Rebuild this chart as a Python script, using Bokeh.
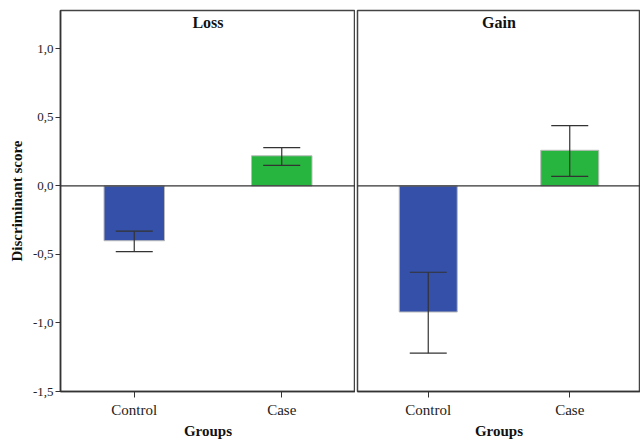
from bokeh.plotting import figure
from bokeh.layouts import row
from bokeh.models import (ColumnDataSource, Whisker, TeeHead, Span, Label,
                          FixedTicker, CustomJSTickFormatter, Range1d)
from bokeh.embed import file_html
from bokeh.resources import INLINE

groups = ["Control", "Case"]
panels = ["Loss", "Gain"]
loss_mean = [-0.40, 0.22]
loss_upper = [-0.33, 0.28]
loss_lower = [-0.48, 0.15]
gain_mean = [-0.92, 0.26]
gain_upper = [-0.63, 0.44]
gain_lower = [-1.22, 0.07]
colors = ["#3550A8", "#27B53F"]
y_ticks = [-1.5, -1.0, -0.5, 0.0, 0.5, 1.0]
y_min, y_max = -1.5, 1.28

FONT = "Liberation Serif"


def make_panel(name, mean, upper, lower, width, left_border, show_y):
    p = figure(x_range=groups, width=width, height=441,
               output_backend="svg", toolbar_location=None,
               y_axis_location="left" if show_y else None,
               min_border_left=left_border, min_border_right=0,
               min_border_top=10, min_border_bottom=46)
    p.y_range = Range1d(y_min, y_max)
    p.background_fill_color = "white"
    p.border_fill_color = "white"
    p.outline_line_color = "#444444"
    p.outline_line_width = 1.5
    p.xgrid.visible = False
    p.ygrid.visible = False

    src = ColumnDataSource(dict(x=groups, top=mean, upper=upper, lower=lower,
                                color=colors))
    p.vbar(x="x", top="top", bottom=0, width=0.41, fill_color="color",
           line_color="#bbbbbb", line_width=1, source=src)
    p.add_layout(Span(location=0, dimension="width", line_color="#333333",
                      line_width=1.2, level="overlay"))
    w = Whisker(base="x", upper="upper", lower="lower", source=src,
                level="overlay",
                line_color="#333333", line_width=1.2,
                upper_head=TeeHead(size=37, line_color="#333333", line_width=1.2),
                lower_head=TeeHead(size=37, line_color="#333333", line_width=1.2))
    p.add_layout(w)

    p.add_layout(Label(x=1.0, y=1.19, text=name, text_align="center",
                       text_baseline="middle", text_font=FONT,
                       text_font_size="16px", text_font_style="bold",
                       text_color="#111111"))

    xa = p.xaxis[0]
    xa.axis_label = "Groups"
    xa.axis_label_text_font = FONT
    xa.axis_label_text_font_size = "15px"
    xa.axis_label_text_font_style = "bold"
    xa.axis_label_text_color = "#111111"
    xa.axis_label_standoff = 2
    xa.major_label_text_font = FONT
    xa.major_label_text_font_size = "15px"
    xa.major_label_text_color = "#222222"
    xa.major_label_standoff = 4
    xa.axis_line_color = "#333333"
    xa.axis_line_width = 1.5
    xa.major_tick_line_color = "#333333"
    xa.major_tick_out = 6
    xa.major_tick_in = 0
    xa.minor_tick_line_color = None

    if show_y:
        ya = p.yaxis[0]
        ya.ticker = FixedTicker(ticks=y_ticks)
        ya.formatter = CustomJSTickFormatter(
            code="return tick.toFixed(1).replace('.', ',');")
        ya.axis_label = "Discriminant score"
        ya.axis_label_text_font = FONT
        ya.axis_label_text_font_size = "15px"
        ya.axis_label_text_font_style = "bold"
        ya.axis_label_text_color = "#111111"
        ya.axis_label_standoff = 5
        ya.major_label_text_font = FONT
        ya.major_label_text_font_size = "13px"
        ya.major_label_text_color = "#222222"
        ya.major_label_standoff = 2
        ya.axis_line_color = "#333333"
        ya.axis_line_width = 1.5
        ya.major_tick_line_color = "#333333"
        ya.major_tick_out = 5
        ya.major_tick_in = 0
        ya.minor_tick_line_color = None
    return p


p1 = make_panel(panels[0], loss_mean, loss_upper, loss_lower, 355, 60, True)
p2 = make_panel(panels[1], gain_mean, gain_upper, gain_lower, 285, 2, False)

layout = row(p1, p2, spacing=0)
open("out.html", "w").write(file_html(layout, INLINE))
